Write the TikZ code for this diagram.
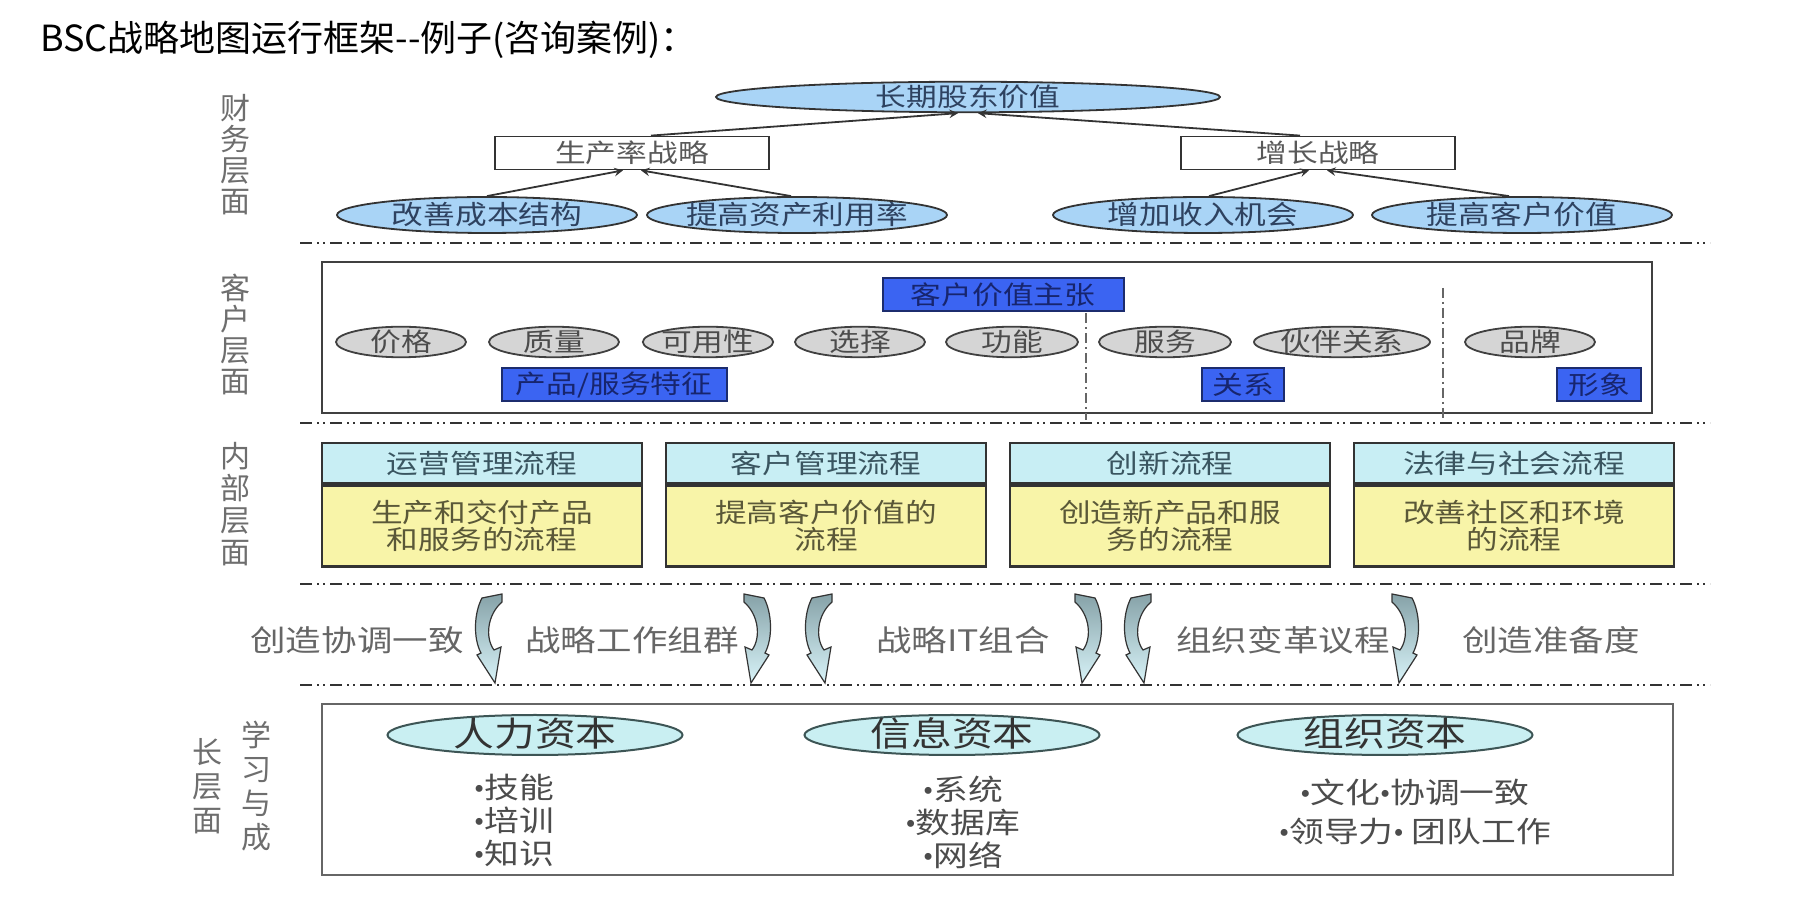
\documentclass[tikz,border=0pt]{standalone}
\usepackage{fontspec}
\setmainfont{Noto Sans CJK SC}
\newfontfamily\widecjk[FakeStretch=1.2]{Noto Sans CJK SC}
\newfontfamily\bulfont{Liberation Serif}
\newcommand\bitem{{\bulfont •}}
\usepackage{xcolor}
\usepackage{tikz}
\usetikzlibrary{shapes.geometric,positioning}

\definecolor{finfill}{HTML}{A9D4F6}
\definecolor{fintext}{HTML}{2E4260}
\definecolor{linegray}{HTML}{333333}
\definecolor{sidegray}{HTML}{6E6E6E}
\definecolor{attrfill}{HTML}{D5D5D5}
\definecolor{tagfill}{HTML}{3B64F2}
\definecolor{tagline}{HTML}{1C2C6E}
\definecolor{tagtext}{HTML}{17256E}
\definecolor{headfill}{HTML}{C8EEF4}
\definecolor{bodyfill}{HTML}{F8F4A8}
\definecolor{headtext}{HTML}{3A5560}
\definecolor{bodytext}{HTML}{5A5838}
\definecolor{capfill}{HTML}{C9EFF2}
\definecolor{capline}{HTML}{3D5555}
\definecolor{swirltop}{HTML}{86A2A8}
\definecolor{swirlbot}{HTML}{D8F3F8}

\tikzset{
  swirl/.pic={
    \path[draw=linegray, line width=0.6pt, top color=swirltop, bottom color=swirlbot]
      (7,5) .. controls (-1,20) and (-2,45) .. (6,60) -- (2,62) -- (20,90)
      -- (26,54) -- (19,57) .. controls (10,45) and (12,22) .. (27,9) -- (27,1) -- cycle;
  }
}

\begin{document}
\begin{tikzpicture}[x=0.5pt,y=-0.5pt,
    sidelbl/.style={align=center, text=sidegray, font=\fontsize{15pt}{15.5pt}\selectfont},
    sepline/.style={draw=linegray, line width=1.1pt, dash pattern=on 6pt off 2.5pt on 1pt off 2pt on 1pt off 2.5pt},
    finell/.style={ellipse, draw=linegray, line width=0.9pt, fill=finfill, text=fintext, inner sep=0pt, inner xsep=-4pt},
    stratbox/.style={draw=linegray, line width=0.9pt, fill=white, text=black!65, minimum width=137pt, minimum height=16.5pt, inner sep=0pt, font=\widecjk\fontsize{12.8pt}{12.8pt}\selectfont},
    finarrow/.style={draw=linegray, line width=0.9pt, -stealth},
    framebox/.style={draw=black!75, line width=1.3pt},
    lrnframe/.style={draw=black!60, line width=1pt},
    divline/.style={draw=black!60, line width=0.6pt, dash pattern=on 5pt off 2pt on 1pt off 2pt},
    tagbox/.style={draw=tagline, line width=1pt, fill=tagfill, text=tagtext, minimum height=16.5pt, inner sep=0pt, font=\widecjk\fontsize{12.8pt}{12.8pt}\selectfont},
    attr/.style={ellipse, draw=black!75, line width=0.9pt, fill=attrfill, text=black!70, minimum height=15pt, inner sep=0pt, text height=10pt, text depth=0.8pt, font=\widecjk\fontsize{12.8pt}{12.8pt}\selectfont},
    prochead/.style={draw=linegray, line width=1.2pt, fill=headfill, text=headtext, minimum width=160pt, minimum height=20pt, inner sep=0pt, font=\widecjk\fontsize{13.2pt}{13.2pt}\selectfont},
    procbody/.style={draw=linegray, line width=1.2pt, fill=bodyfill, text=bodytext, minimum width=160pt, minimum height=40.5pt, inner sep=0pt, align=center, font=\widecjk\fontsize{13.2pt}{13.2pt}\selectfont},
    rowlbl/.style={text=black!60, font=\widecjk\fontsize{14.8pt}{14.8pt}\selectfont},
    capell/.style={ellipse, draw=capline, line width=1pt, fill=capfill, text=black!80, minimum width=147.5pt, minimum height=20pt, inner sep=0pt, text height=13pt, text depth=1pt, font=\widecjk\fontsize{17pt}{17pt}\selectfont},
    listtxt/.style={align=center, text=black!70, font=\widecjk\fontsize{14.5pt}{16.5pt}\selectfont}]
        \useasboundingbox (0,0) rectangle (1796,897);
        \node[anchor=west, font=\fontsize{18pt}{20pt}\selectfont] (title) at (33,40) {BSC战略地图运行框架-\kern0pt-例子(咨询案例)：};

        % layer names on the left
        \node[sidelbl] (lblfin) at (235,155) {财\\务\\层\\面};
        \node[sidelbl] (lblcus) at (235,334) {客\\户\\层\\面};
        \node[sidelbl, font=\fontsize{15pt}{16pt}\selectfont] (lblint) at (235,504) {内\\部\\层\\面};
        \node[sidelbl, font=\fontsize{15pt}{17pt}\selectfont] (lbllrn) at (256,786) {学\\习\\与\\成};
        \node[sidelbl, font=\fontsize{15pt}{17pt}\selectfont] (lbllrnb) at (207,786) {长\\层\\面};

        \foreach \y in {243,423,584,685}
            \draw[sepline] (300,\y) -- (1710,\y);

        % financial layer
        \node[finell, minimum width=252pt, minimum height=15pt, text height=10pt, text depth=0.8pt, font=\widecjk\fontsize{12.8pt}{12.8pt}\selectfont] (value) at (968,97) {长期股东价值};
        \node[stratbox] (prod) at (632,153) {生产率战略};
        \node[stratbox] (grow) at (1318,153) {增长战略};
        \foreach \x/\t/\n in {487/改善成本结构/cost, 797/提高资产利用率/asset, 1203/增加收入机会/rev, 1522/提高客户价值/cval}
            \node[finell, minimum width=150pt, minimum height=18pt, text height=10.3pt, text depth=0.8pt, font=\widecjk\fontsize{13.2pt}{13.2pt}\selectfont] (\n) at (\x,215) {\t};
        \draw[finarrow] (cost.north) -- ([xshift=-4.5pt]prod.south);
        \draw[finarrow] ([xshift=-3pt]asset.north) -- ([xshift=4.5pt]prod.south);
        \draw[finarrow] ([xshift=3pt]rev.north) -- ([xshift=-4.5pt]grow.south);
        \draw[finarrow] ([xshift=-6.5pt]cval.north) -- ([xshift=4.5pt]grow.south);
        \draw[finarrow] ([xshift=9.5pt]prod.north) -- ([xshift=-5pt]value.south);
        \draw[finarrow] ([xshift=-9pt]grow.north) -- ([xshift=5pt]value.south);

        % customer layer
        \draw[framebox] (322,262) rectangle (1652,413);
        \node[tagbox, minimum width=120.5pt] (prop) at (1003,295) {客户价值主张};
        \foreach \x/\w/\t/\n in {401/65/价格/a, 554/65/质量/b, 708/65/可用性/c, 860/65/选择/d, 1012/66/功能/e, 1165/66/服务/f, 1342/88/伙伴关系/g, 1530/65/品牌/h}
            \node[attr, minimum width=\w pt] (attr\n) at (\x,342) {\t};
        \node[tagbox, minimum width=112.5pt] (feat) at (614,385) {产品/服务特征};
        \node[tagbox, minimum width=41pt] (rel) at (1243,385) {关系};
        \node[tagbox, minimum width=42pt] (img) at (1599,385) {形象};
        \draw[divline] (1086,313) -- (1086,420);
        \draw[divline] (1443,288) -- (1443,420);

        % internal layer
        \foreach \x/\hd/\la/\lb/\n in {
            482/运营管理流程/生产和交付产品/和服务的流程/ops,
            826/客户管理流程/提高客户价值的/流程/crm,
            1170/创新流程/创造新产品和服/务的流程/inno,
            1514/法律与社会流程/改善社区和环境/的流程/soc
        } {
            \node[prochead] (head\n) at (\x,463) {\hd};
            \node[procbody, below=0pt of head\n] (body\n) {\la\\\lb};
        }

        % readiness row
        \foreach \x/\t/\n in {357/创造协调一致/a, 632/战略工作组群/b, 963/战略IT组合/c, 1283/组织变革议程/d, 1551/创造准备度/e}
            \node[rowlbl] (row\n) at (\x,640) {\t};
        \pic at (475,593) {swirl};
        \pic[xscale=-1] at (771,593) {swirl};
        \pic at (805,593) {swirl};
        \pic[xscale=-1] at (1102,593) {swirl};
        \pic at (1124,593) {swirl};
        \pic[xscale=-1] at (1419,593) {swirl};

        % learning and growth layer
        \draw[lrnframe] (322,704) rectangle (1673,875);
        \foreach \x/\t/\n in {535/人力资本/human, 952/信息资本/info, 1385/组织资本/org}
            \node[capell] (\n) at (\x,735) {\t};
        \node[listtxt] (humanlist) at (514,820) {\bitem{}技能\\\bitem{}培训\\\bitem{}知识};
        \node[listtxt] (infolist) at (963,822) {\bitem{}系统\\\bitem{}数据库\\\bitem{}网络};
        \node[listtxt] (orglist) at (1415,812) {\bitem{}文化\bitem{}协调一致\\[3pt]\bitem{}领导力\bitem{} 团队工作};
    \end{tikzpicture}
\end{document}
